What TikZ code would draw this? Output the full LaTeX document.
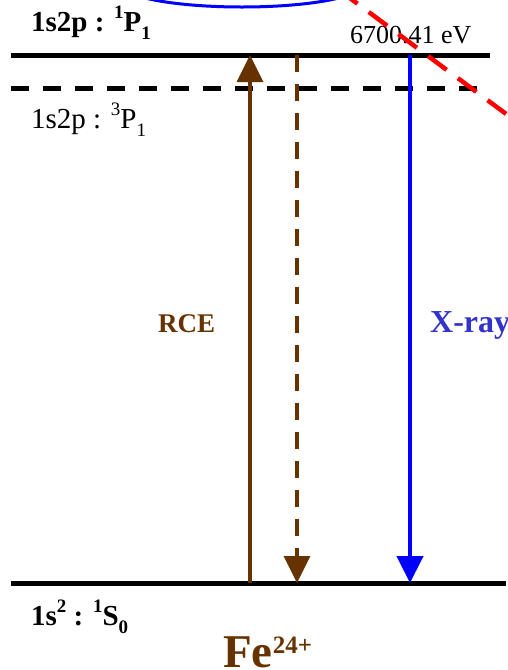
\documentclass[tikz,border=0pt]{standalone}
\usepackage{fontspec}
\setmainfont{Liberation Serif}
\usetikzlibrary{arrows.meta, positioning}

\definecolor{rcebrown}{RGB}{102,51,0}
\definecolor{xraytext}{RGB}{51,51,204}

\newcommand{\upidx}[1]{\raisebox{0.42em}{\fontsize{19}{19}\selectfont #1}}
\newcommand{\lowidx}[1]{\raisebox{-0.3em}{\fontsize{19}{19}\selectfont #1}}

\begin{document}
\begin{tikzpicture}[
  x=1pt, y=-1pt,
  >={Triangle[length=27pt,width=26pt]}
]
\tikzstyle{level}=[line width=5pt]
\tikzstyle{rce}=[draw=rcebrown, line width=3.3pt]
\tikzstyle{xray}=[draw=blue, line width=4.5pt]
\tikzstyle{lbl}=[anchor=base west, inner sep=0pt, font=\fontsize{29}{32}\selectfont]

% ================= FRAME =================
\clip (0,0) rectangle (508,670);

% ================= LEVELS =================
\coordinate (P1a) at (11,55);
\coordinate (P1b) at (490,55);
\coordinate (P3a) at (11,88);
\coordinate (P3b) at (484,88);
\coordinate (S0a) at (11,583);
\coordinate (S0b) at (506,583);

\draw[level] (P1a) -- (P1b);
\draw[level, dash pattern=on 18pt off 14pt] (P3a) -- (P3b);
\draw[level] (S0a) -- (S0b);

% ================= LABELS =================
\node[lbl, font=\bfseries\fontsize{29}{32}\selectfont] (lblP1) at (31,31) {1s2p : \upidx{1}P\lowidx{1}};
\node[lbl, font=\fontsize{26}{30}\selectfont] (energy) at (350,43) {6700.41 eV};
\node[lbl] (lblP3) at (31,128) {1s2p : \upidx{3}P\lowidx{1}};
\node[lbl, font=\bfseries\fontsize{29}{32}\selectfont] (lblS0) at (31,625) {1s\upidx{2} : \upidx{1}S\lowidx{0}};
\node[lbl, text=rcebrown, font=\bfseries\fontsize{27}{30}\selectfont] (lblRCE) at (158,332) {RCE};
\node[lbl, text=xraytext, font=\bfseries\fontsize{32}{36}\selectfont] (lblX) at (430,332) {X-ray};
\node[lbl, text=rcebrown, font=\bfseries\fontsize{47}{50}\selectfont] (ion) at (223,667) {Fe\raisebox{14pt}{\fontsize{25}{25}\selectfont 24+}};

% ===== Transitions =====
\coordinate (rceLow) at (250,583);
\coordinate (rceUp)  at (250,55);
\coordinate (decUp)  at (297,55);
\coordinate (decLow) at (297,583);
\coordinate (xUp)    at (410,55);
\coordinate (xLow)   at (410,583);

\draw[rce, ->] (rceLow) -- (rceUp);
\draw[rce, ->, dash pattern=on 17pt off 12pt] (decUp) -- (decLow);
\draw[xray, ->] (xUp) -- (xLow);

% ===== Cut outs =====
\draw[draw=blue, line width=3pt] (242,-15) ellipse [x radius=120pt, y radius=22pt];
\coordinate (cutA) at (339,-10);
\coordinate (cutB) at (521,125);
\draw[red, line width=4.5pt, dash pattern=on 23pt off 14pt] (cutA) -- (cutB);
\end{tikzpicture}
\end{document}
